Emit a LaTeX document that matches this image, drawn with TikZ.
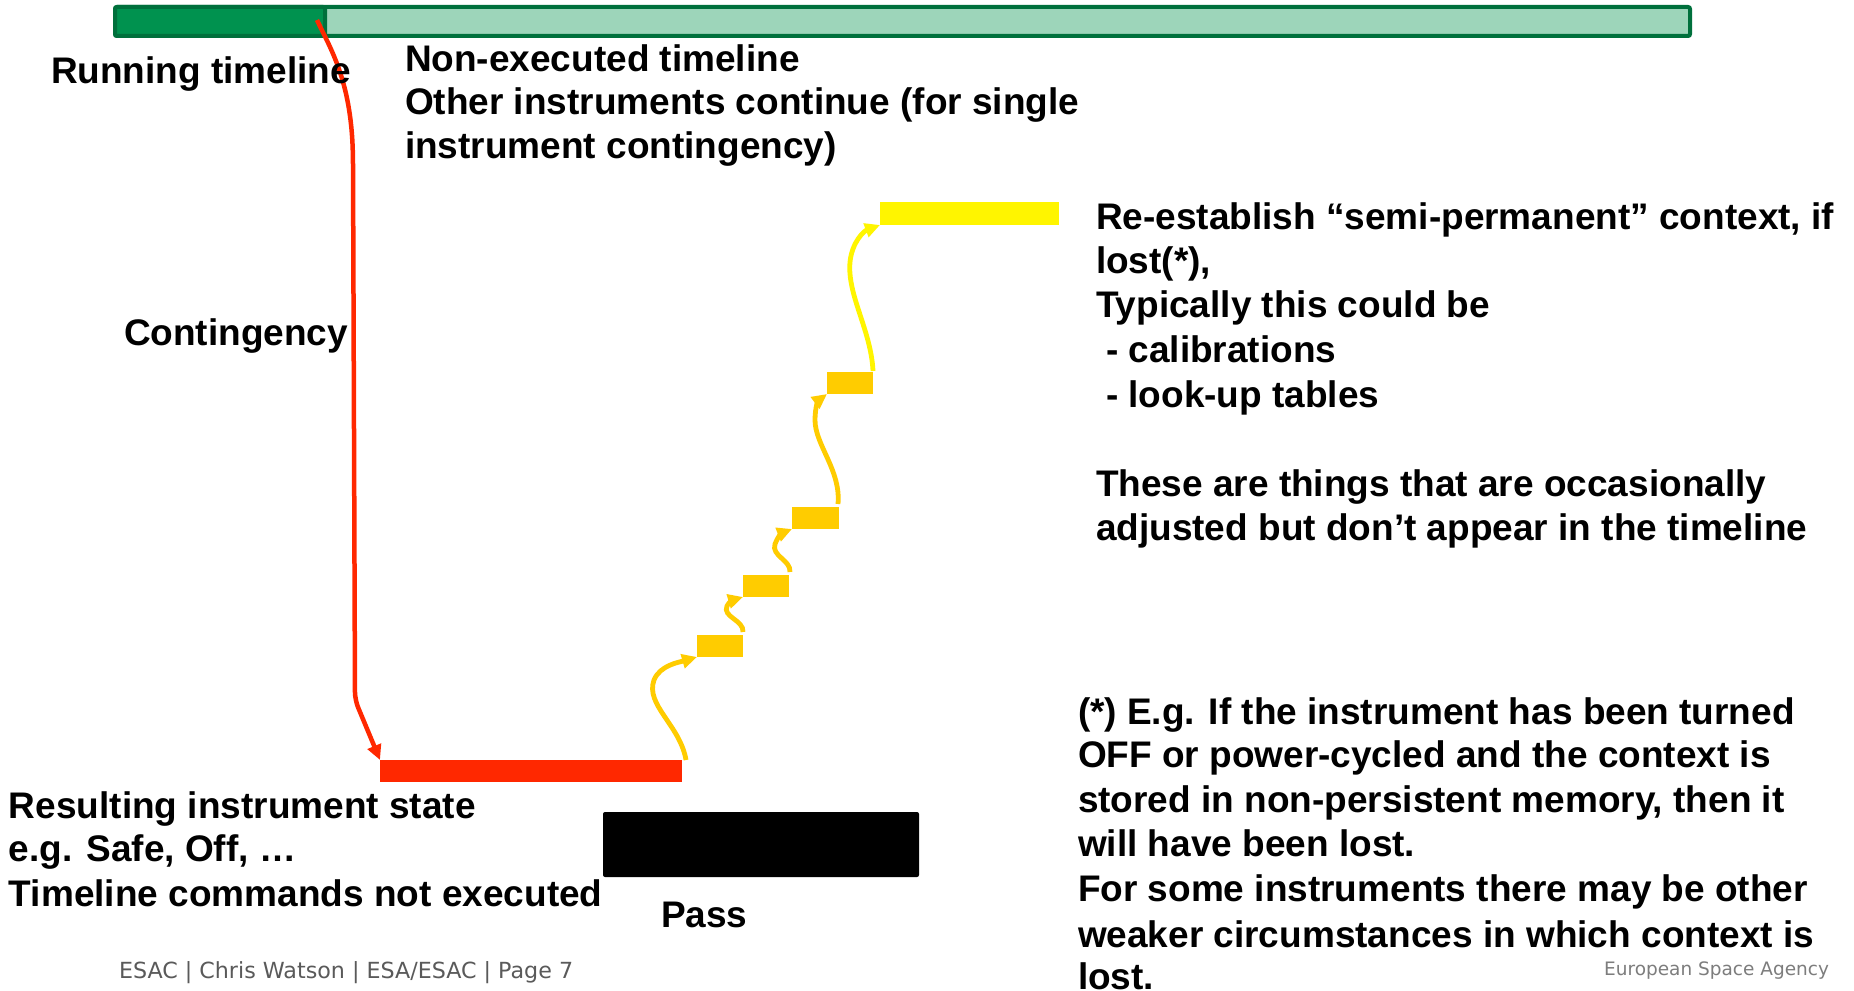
\documentclass[tikz,border=0pt]{standalone}
\usepackage{fontspec}
\setmainfont{Liberation Sans}
\newfontfamily\footfont{DejaVu Sans}
\usetikzlibrary{arrows.meta}
\definecolor{tlborder}{RGB}{0,112,60}
\definecolor{tldark}{RGB}{0,146,79}
\definecolor{tllight}{RGB}{157,213,186}
\definecolor{statered}{RGB}{255,40,0}
\definecolor{steporange}{RGB}{255,204,0}
\definecolor{ctxyellow}{RGB}{255,245,0}
\definecolor{footgrey}{RGB}{90,90,90}
\definecolor{esagrey}{RGB}{125,125,125}
\begin{document}
\begin{tikzpicture}[x=1pt,y=-1pt,
  txt/.style={anchor=base west, inner sep=0pt, outer sep=0pt, font=\bfseries\fontsize{37}{44}\selectfont},
  tlbar/.style={draw=tlborder, line width=4pt, rounded corners=2pt, anchor=north west, inner sep=0pt, outer sep=0pt, minimum height=29pt},
  block/.style={anchor=north west, inner sep=0pt, outer sep=0pt, draw=none},
  stepbar/.style={block, fill=steporange, minimum width=46pt, minimum height=22pt},
  steparrow/.style={draw=steporange, line width=4.8pt, -{Triangle[length=15pt,width=14pt]}},
  ctxarrow/.style={draw=ctxyellow, line width=4.8pt, -{Triangle[length=15pt,width=14pt]}},
  redarrow/.style={draw=statered, line width=4.5pt, rounded corners=8pt, -{Triangle[length=15pt,width=14pt]}},
  foot/.style={inner sep=0pt, outer sep=0pt}
]
\useasboundingbox[fill=white] (0,0) rectangle (1854,990);

% timeline bar
\node[tlbar, fill=tllight, minimum width=1575pt] (timeline) at (115,7) {};
\node[tlbar, fill=tldark, minimum width=210pt] (running) at (115,7) {};
\coordinate (cstart) at (317,20);

% state bars
\node[block, fill=statered, minimum width=302pt, minimum height=22pt] (redbar) at (380,760) {};
\node[block, fill=black, rounded corners=2pt, minimum width=316pt, minimum height=65pt] (passbox) at (603,812) {};
\node[stepbar] (ob1) at (697,635) {};
\node[stepbar] (ob2) at (743,575) {};
\node[stepbar, minimum width=47pt] (ob3) at (792,507) {};
\node[stepbar] (ob4) at (827,372) {};
\node[block, fill=ctxyellow, minimum width=179pt, minimum height=23pt] (ctxbar) at (880,202) {};

% connectors
\draw[redarrow] (cstart) .. controls (330,48) and (351,80) .. (353,160) -- (355,700) -- (redbar.north west);
\draw[steparrow] ([xshift=4pt]redbar.north east) .. controls (680,725) and (645,705) .. (654,680) .. controls (660,665) and (680,662) .. (ob1.south west);
\draw[steparrow] ([yshift=3pt]ob1.north east) .. controls (744,620) and (722,617) .. (727,606) .. controls (729,602) and (733,600) .. (ob2.south west);
\draw[steparrow] ([xshift=1pt,yshift=3pt]ob2.north east) .. controls (791,560) and (771,556) .. (775,544) .. controls (777,538) and (782,533) .. (ob3.south west);
\draw[steparrow] ([xshift=-1pt,yshift=3pt]ob3.north east) .. controls (841,470) and (815,445) .. (815,420) .. controls (815,406) and (819,400) .. (ob4.south west);
\draw[ctxarrow] ([yshift=1pt]ob4.north east) .. controls (871,330) and (847,295) .. (850,262) .. controls (852,242) and (864,231) .. (ctxbar.south west);

% texts
\node[txt] (running label) at (51,83) {Running timeline};
\node[txt] (nonexec1) at (405,71) {Non-executed timeline};
\node[txt] (nonexec2) at (405,114) {Other instruments continue (for single};
\node[txt] (nonexec3) at (405,158) {instrument contingency)};
\node[txt] (contingency) at (124,345) {Contingency};

\node[txt] (ctx1) at (1096,229) {Re-establish “semi-permanent” context, if};
\node[txt] (ctx2) at (1096,273) {lost(*),};
\node[txt] (ctx3) at (1096,317) {Typically this could be};
\node[txt] (ctx4) at (1106,362) {- calibrations};
\node[txt] (ctx5) at (1106,407) {- look-up tables};
\node[txt] (ctx6) at (1096,496) {These are things that are occasionally};
\node[txt] (ctx7) at (1096,540) {adjusted but don’t appear in the timeline};

\node[txt] (state1) at (9,818) {Resulting instrument state};
\node[txt] (state2) at (9,861) {e.g. Safe, Off, …};
\node[txt] (state3) at (9,906) {Timeline commands not executed};
\node[txt] (passlabel) at (661,927) {Pass};

\node[txt] (note1) at (1078,724) {(*) E.g. If the instrument has been turned};
\node[txt] (note2) at (1078,767) {OFF or power-cycled and the context is};
\node[txt] (note3) at (1078,812) {stored in non-persistent memory, then it};
\node[txt] (note4) at (1078,856) {will have been lost.};
\node[txt] (note5) at (1078,901) {For some instruments there may be other};
\node[txt] (note6) at (1078,947) {weaker circumstances in which context is};
\node[txt] (note7) at (1078,989) {lost.};

% footer
\node[foot, anchor=base west, text=footgrey, font=\footfont\fontsize{22.2}{25}\selectfont] (footer) at (119,978) {ESAC | Chris Watson | ESA/ESAC | Page 7};
\node[foot, anchor=base east, text=esagrey, font=\footfont\fontsize{18.5}{22}\selectfont] (esa) at (1829,975) {European Space Agency};
\end{tikzpicture}
\end{document}
